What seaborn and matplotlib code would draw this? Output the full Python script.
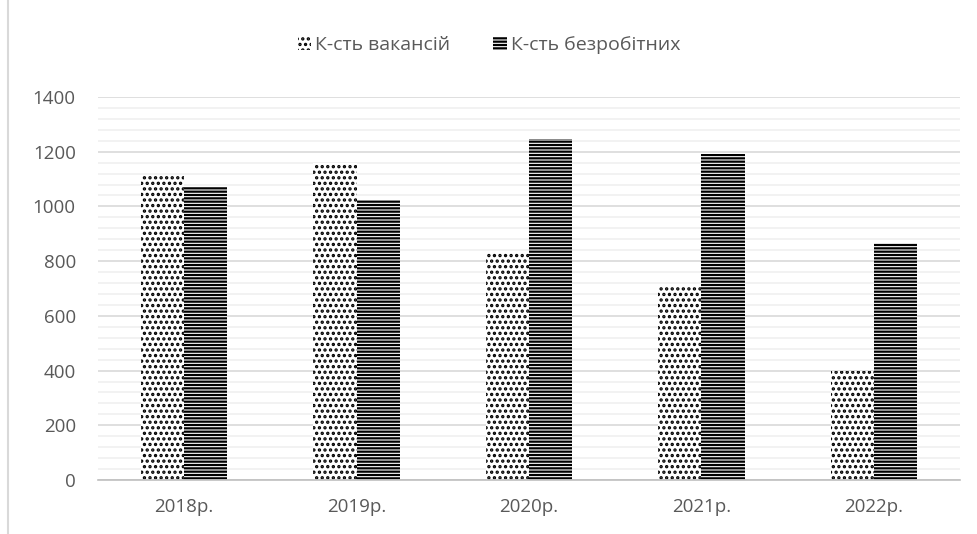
import matplotlib
matplotlib.use('Agg')
import matplotlib.pyplot as plt
import seaborn as sns
import pandas as pd
from matplotlib.patches import Patch
from matplotlib.lines import Line2D

# chart data
years = ['2018р.', '2019р.', '2020р.', '2021р.', '2022р.']
vacancies = [1115, 1158, 835, 708, 398]
unemployed = [1070, 1025, 1245, 1193, 865]
series_names = ['К-сть вакансій', 'К-сть безробітних']

df = pd.DataFrame({
    'year': years * 2,
    'value': vacancies + unemployed,
    'series': [series_names[0]] * len(years) + [series_names[1]] * len(years),
})

sns.set_style('white')
plt.rcParams['font.family'] = ['Open Sans', 'DejaVu Sans']
plt.rcParams['hatch.linewidth'] = 1.6

fig = plt.figure(figsize=(9.78, 5.34), dpi=100)
ax = fig.add_axes([0.1002, 0.1011, 0.8814, 0.7173])

sns.barplot(data=df, x='year', y='value', hue='series', ax=ax,
            palette=['white', 'white'], width=0.5, gap=0,
            edgecolor='black', linewidth=0, legend=False)

# dotted fill for vacancies, dense horizontal stripes for unemployed
hatches = ['...', '-----']
for cont, h in zip(ax.containers, hatches):
    for bar in cont:
        bar.set_hatch(h)
        bar.set_edgecolor('black')
        bar.set_linewidth(0)

ax.set_ylim(0, 1400)
ax.set_xlim(-0.5, 4.5)
ax.set_yticks(range(0, 1401, 200))
ax.set_yticks(range(0, 1401, 40), minor=True)
ax.grid(axis='y', which='major', color='#d9d9d9', linewidth=1.2)
ax.grid(axis='y', which='minor', color='#f0f0f0', linewidth=1.2)
ax.set_axisbelow(True)
for s in ['top', 'right', 'left']:
    ax.spines[s].set_visible(False)
ax.spines['bottom'].set_color('#bfbfbf')
ax.spines['bottom'].set_linewidth(1.2)
ax.tick_params(axis='both', which='both', length=0, labelsize=13.5,
               labelcolor='#595959')
ax.tick_params(axis='y', pad=16)
ax.tick_params(axis='x', pad=13)
ax.set_xlabel('')
ax.set_ylabel('')

handles = [Patch(facecolor='white', edgecolor='black', linewidth=0, hatch='...'),
           Patch(facecolor='white', edgecolor='black', linewidth=0, hatch='-----')]
fig.legend(handles, series_names, loc='center', bbox_to_anchor=(0.5, 0.915),
           ncol=2, frameon=False, fontsize=14, labelcolor='#595959',
           handlelength=0.7, handleheight=0.7, handletextpad=0.2,
           columnspacing=2.2)

# left border line of the chart area
fig.add_artist(Line2D([0.008, 0.008], [0.0, 1.0], color='#d9d9d9', linewidth=1.5))

plt.savefig('out.png', dpi=100)
